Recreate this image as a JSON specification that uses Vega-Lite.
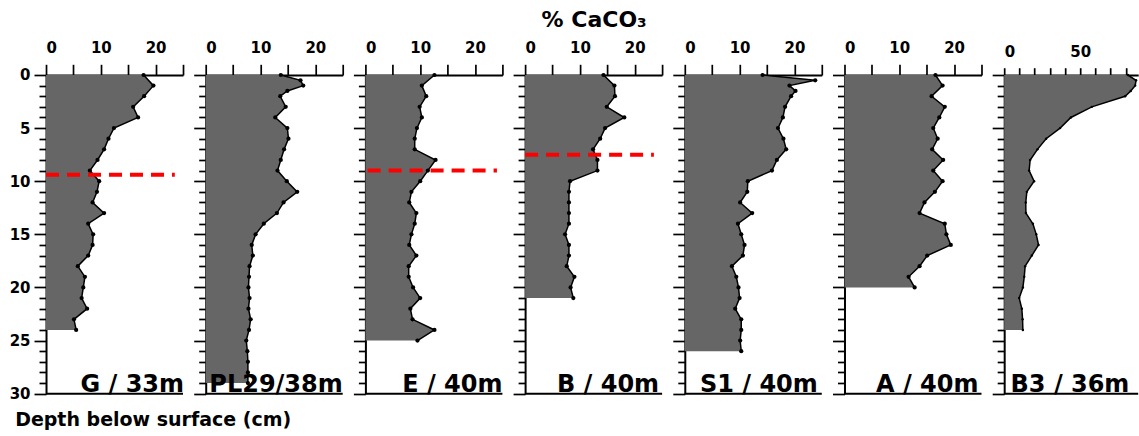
{
  "$schema": "https://vega.github.io/schema/vega-lite/v6.json",
  "padding": {"left": 9, "top": 9, "right": 0, "bottom": 0},
  "background": "white",
  "config": {
    "font": "DejaVu Sans",
    "view": {"stroke": null},
    "axis": {"domainColor": "black", "domainWidth": 2, "tickColor": "black", "tickWidth": 1.7, "labelFont": "DejaVu Sans", "labelFontWeight": "bold", "labelFontSize": 15, "labelColor": "black", "grid": false}
  },
  "title": {"text": "% CaCO₃", "anchor": "middle", "fontSize": 22, "fontWeight": "bold", "color": "black", "offset": 8, "dx": 20, "font": "DejaVu Sans"},
  "bounds": "flush",
  "spacing": 22.7,
  "datasets": {
    "G": [
      {"depth": 0, "caco3": 17.8}, {"depth": 1, "caco3": 19.6}, {"depth": 2, "caco3": 17.9}, {"depth": 3, "caco3": 15.9}, {"depth": 4, "caco3": 16.8},
      {"depth": 5, "caco3": 12.4}, {"depth": 6, "caco3": 11.4}, {"depth": 7, "caco3": 10.6}, {"depth": 8, "caco3": 9.4}, {"depth": 9, "caco3": 8.0},
      {"depth": 10, "caco3": 9.7}, {"depth": 11, "caco3": 9.3}, {"depth": 12, "caco3": 8.5}, {"depth": 13, "caco3": 10.6}, {"depth": 14, "caco3": 7.7},
      {"depth": 15, "caco3": 8.6}, {"depth": 16, "caco3": 8.5}, {"depth": 17, "caco3": 7.7}, {"depth": 18, "caco3": 5.8}, {"depth": 19, "caco3": 7.1},
      {"depth": 20, "caco3": 6.8}, {"depth": 21, "caco3": 6.5}, {"depth": 22, "caco3": 7.5}, {"depth": 23, "caco3": 5.1}, {"depth": 24, "caco3": 5.5}
    ],
    "PL29": [
      {"depth": 0, "caco3": 13.7}, {"depth": 0.5, "caco3": 17.3}, {"depth": 1, "caco3": 17.8}, {"depth": 1.5, "caco3": 14.9}, {"depth": 2, "caco3": 13.6},
      {"depth": 3, "caco3": 14.6}, {"depth": 4, "caco3": 12.7}, {"depth": 5, "caco3": 14.9}, {"depth": 6, "caco3": 15.1}, {"depth": 7, "caco3": 14.3},
      {"depth": 8, "caco3": 13.7}, {"depth": 9, "caco3": 13.1}, {"depth": 10, "caco3": 14.8}, {"depth": 11, "caco3": 16.7}, {"depth": 12, "caco3": 14.2},
      {"depth": 13, "caco3": 13.0}, {"depth": 14, "caco3": 10.6}, {"depth": 15, "caco3": 9.1}, {"depth": 16, "caco3": 8.4}, {"depth": 17, "caco3": 8.6},
      {"depth": 18, "caco3": 8.0}, {"depth": 19, "caco3": 7.9}, {"depth": 20, "caco3": 7.8}, {"depth": 21, "caco3": 8.0}, {"depth": 22, "caco3": 7.8},
      {"depth": 23, "caco3": 8.2}, {"depth": 24, "caco3": 7.9}, {"depth": 25, "caco3": 7.4}, {"depth": 26, "caco3": 7.6}, {"depth": 27, "caco3": 7.7},
      {"depth": 28, "caco3": 7.7}, {"depth": 29, "caco3": 7.7}
    ],
    "E": [
      {"depth": 0, "caco3": 12.6}, {"depth": 1, "caco3": 10.3}, {"depth": 2, "caco3": 11.1}, {"depth": 3, "caco3": 9.9}, {"depth": 4, "caco3": 10.3},
      {"depth": 5, "caco3": 9.4}, {"depth": 6, "caco3": 9.0}, {"depth": 7, "caco3": 9.0}, {"depth": 8, "caco3": 12.8}, {"depth": 9, "caco3": 11.4},
      {"depth": 10, "caco3": 10.0}, {"depth": 11, "caco3": 8.4}, {"depth": 12, "caco3": 8.0}, {"depth": 13, "caco3": 9.3}, {"depth": 14, "caco3": 9.0},
      {"depth": 15, "caco3": 8.4}, {"depth": 16, "caco3": 8.0}, {"depth": 17, "caco3": 9.3}, {"depth": 18, "caco3": 7.9}, {"depth": 19, "caco3": 7.9},
      {"depth": 20, "caco3": 8.7}, {"depth": 21, "caco3": 10.0}, {"depth": 22, "caco3": 8.2}, {"depth": 23, "caco3": 8.6}, {"depth": 24, "caco3": 12.6},
      {"depth": 25, "caco3": 9.5}
    ],
    "B": [
      {"depth": 0, "caco3": 14.3}, {"depth": 1, "caco3": 16.3}, {"depth": 2, "caco3": 16.4}, {"depth": 3, "caco3": 14.9}, {"depth": 4, "caco3": 18.1},
      {"depth": 5, "caco3": 14.6}, {"depth": 6, "caco3": 13.7}, {"depth": 7, "caco3": 12.4}, {"depth": 8, "caco3": 13.2}, {"depth": 9, "caco3": 13.2},
      {"depth": 10, "caco3": 8.2}, {"depth": 11, "caco3": 8.0}, {"depth": 12, "caco3": 8.0}, {"depth": 13, "caco3": 8.0}, {"depth": 14, "caco3": 8.0},
      {"depth": 15, "caco3": 7.3}, {"depth": 16, "caco3": 8.0}, {"depth": 17, "caco3": 8.0}, {"depth": 18, "caco3": 7.6}, {"depth": 19, "caco3": 9.0},
      {"depth": 20, "caco3": 8.3}, {"depth": 21, "caco3": 8.8}
    ],
    "S1": [
      {"depth": 0, "caco3": 14.2}, {"depth": 0.5, "caco3": 23.8}, {"depth": 1, "caco3": 19.1}, {"depth": 1.5, "caco3": 20.2}, {"depth": 2, "caco3": 19.4},
      {"depth": 3, "caco3": 18.3}, {"depth": 4, "caco3": 17.9}, {"depth": 5, "caco3": 17.0}, {"depth": 6, "caco3": 18.0}, {"depth": 7, "caco3": 18.5},
      {"depth": 8, "caco3": 16.8}, {"depth": 9, "caco3": 15.9}, {"depth": 10, "caco3": 11.5}, {"depth": 11, "caco3": 11.4}, {"depth": 12, "caco3": 10.1},
      {"depth": 13, "caco3": 12.3}, {"depth": 14, "caco3": 9.7}, {"depth": 15, "caco3": 10.3}, {"depth": 16, "caco3": 10.9}, {"depth": 17, "caco3": 10.6},
      {"depth": 18, "caco3": 8.6}, {"depth": 19, "caco3": 9.4}, {"depth": 20, "caco3": 9.8}, {"depth": 21, "caco3": 10.0}, {"depth": 22, "caco3": 9.2},
      {"depth": 23, "caco3": 10.3}, {"depth": 24, "caco3": 10.3}, {"depth": 25, "caco3": 10.1}, {"depth": 26, "caco3": 10.3}
    ],
    "A": [
      {"depth": 0, "caco3": 16.6}, {"depth": 1, "caco3": 17.9}, {"depth": 2, "caco3": 15.9}, {"depth": 3, "caco3": 18.3}, {"depth": 4, "caco3": 17.3},
      {"depth": 5, "caco3": 16.2}, {"depth": 6, "caco3": 17.0}, {"depth": 7, "caco3": 16.0}, {"depth": 8, "caco3": 18.0}, {"depth": 9, "caco3": 16.2},
      {"depth": 10, "caco3": 17.9}, {"depth": 11, "caco3": 16.5}, {"depth": 12, "caco3": 14.6}, {"depth": 13, "caco3": 13.7}, {"depth": 14, "caco3": 18.3},
      {"depth": 15, "caco3": 18.6}, {"depth": 16, "caco3": 19.4}, {"depth": 17, "caco3": 15.1}, {"depth": 18, "caco3": 13.7}, {"depth": 19, "caco3": 11.7},
      {"depth": 20, "caco3": 12.8}
    ],
    "B3": [
      {"depth": 0, "caco3": 81.4}, {"depth": 0.5, "caco3": 86.8}, {"depth": 1, "caco3": 86.2}, {"depth": 1.5, "caco3": 83.3}, {"depth": 2, "caco3": 79.6},
      {"depth": 3, "caco3": 57.7}, {"depth": 4, "caco3": 43.9}, {"depth": 5, "caco3": 36.8}, {"depth": 6, "caco3": 27.6}, {"depth": 7, "caco3": 21.9},
      {"depth": 8, "caco3": 17.1}, {"depth": 9, "caco3": 16.4}, {"depth": 10, "caco3": 19.7}, {"depth": 11, "caco3": 14.9}, {"depth": 12, "caco3": 14.2},
      {"depth": 13, "caco3": 14.3}, {"depth": 14, "caco3": 18.9}, {"depth": 15, "caco3": 21.1}, {"depth": 16, "caco3": 22.6}, {"depth": 17, "caco3": 18.2},
      {"depth": 18, "caco3": 13.8}, {"depth": 19, "caco3": 13.2}, {"depth": 20, "caco3": 12.3}, {"depth": 21, "caco3": 9.9}, {"depth": 22, "caco3": 11.6},
      {"depth": 23, "caco3": 12.1}, {"depth": 24, "caco3": 12.3}
    ]
  },
  "hconcat": [
    {
      "width": 137, "height": 318.7,
      "data": {"name": "G"},
      "title": {"text": "Depth below surface (cm)", "orient": "bottom", "anchor": "start", "frame": "bounds", "fontSize": 19, "fontWeight": "bold", "color": "black", "offset": 9, "dx": 6, "font": "DejaVu Sans"},
      "encoding": {
        "y": {"field": "depth", "type": "quantitative", "scale": {"domain": [0, 30], "reverse": true, "nice": false}, "axis": {"title": null, "values": [0,1,2,3,4,5,6,7,8,9,10,11,12,13,14,15,16,17,18,19,20,21,22,23,24,25,26,27,28,29,30], "labelExpr": "datum.value % 5 === 0 ? datum.label : ''", "tickSize": {"condition": {"test": "datum.value % 5 === 0", "value": 12}, "value": 7}, "labelPadding": 4}},
        "x": {"field": "caco3", "type": "quantitative", "scale": {"domain": [0, 25], "nice": false}, "axis": {"title": null, "orient": "top", "values": [0,5,10,15,20,25], "labelExpr": "datum.value % 10 === 0 ? datum.label : ''", "tickSize": 10.7, "labelPadding": 9}}
      },
      "layer": [
        {"mark": {"type": "area", "orient": "horizontal", "fill": "#666666"}},
        {"mark": {"type": "line", "orient": "horizontal", "color": "black", "strokeWidth": 1.5}, "encoding": {"order": {"field": "depth", "type": "quantitative"}}},
        {"mark": {"type": "circle", "color": "black", "size": 18, "opacity": 1}},
        {"transform": [{"filter": "datum.depth === 0"}], "mark": {"type": "rule", "color": "#ff0000", "strokeWidth": 4, "strokeDash": [13, 8]}, "encoding": {"y": {"datum": 9.4}, "x": {"datum": 0}, "x2": {"datum": 23.5}}},
        {"transform": [{"filter": "datum.depth === 0"}], "mark": {"type": "rule", "color": "black", "strokeWidth": 2}, "encoding": {"y": {"datum": 30}, "x": {"datum": 0}, "x2": {"datum": 25}}},
        {"transform": [{"filter": "datum.depth === 0"}], "mark": {"type": "text", "text": "G / 33m", "align": "right", "baseline": "alphabetic", "fontSize": 24, "fontWeight": "bold", "color": "black", "dy": -2, "dx": 1}, "encoding": {"x": {"datum": 25}, "y": {"datum": 30}}}
      ]
    },
    {
      "width": 137, "height": 318.7,
      "data": {"name": "PL29"},
      "encoding": {
        "y": {"field": "depth", "type": "quantitative", "scale": {"domain": [0, 30], "reverse": true, "nice": false}, "axis": {"title": null, "values": [0,1,2,3,4,5,6,7,8,9,10,11,12,13,14,15,16,17,18,19,20,21,22,23,24,25,26,27,28,29,30], "labels": false, "tickSize": {"condition": {"test": "datum.value % 5 === 0", "value": 12}, "value": 7}}},
        "x": {"field": "caco3", "type": "quantitative", "scale": {"domain": [0, 25], "nice": false}, "axis": {"title": null, "orient": "top", "values": [0,5,10,15,20,25], "labelExpr": "datum.value % 10 === 0 ? datum.label : ''", "tickSize": 10.7, "labelPadding": 9}}
      },
      "layer": [
        {"mark": {"type": "area", "orient": "horizontal", "fill": "#666666"}},
        {"mark": {"type": "line", "orient": "horizontal", "color": "black", "strokeWidth": 1.5}, "encoding": {"order": {"field": "depth", "type": "quantitative"}}},
        {"mark": {"type": "circle", "color": "black", "size": 18, "opacity": 1}},
        {"transform": [{"filter": "datum.depth === 0"}], "mark": {"type": "rule", "color": "black", "strokeWidth": 2}, "encoding": {"y": {"datum": 30}, "x": {"datum": 0}, "x2": {"datum": 25}}},
        {"transform": [{"filter": "datum.depth === 0"}], "mark": {"type": "text", "text": "PL29/38m", "align": "right", "baseline": "alphabetic", "fontSize": 24, "fontWeight": "bold", "color": "black", "dy": -2}, "encoding": {"x": {"datum": 25}, "y": {"datum": 30}}}
      ]
    },
    {
      "width": 137, "height": 318.7,
      "data": {"name": "E"},
      "encoding": {
        "y": {"field": "depth", "type": "quantitative", "scale": {"domain": [0, 30], "reverse": true, "nice": false}, "axis": {"title": null, "values": [0,1,2,3,4,5,6,7,8,9,10,11,12,13,14,15,16,17,18,19,20,21,22,23,24,25,26,27,28,29,30], "labels": false, "tickSize": {"condition": {"test": "datum.value % 5 === 0", "value": 12}, "value": 7}}},
        "x": {"field": "caco3", "type": "quantitative", "scale": {"domain": [0, 25], "nice": false}, "axis": {"title": null, "orient": "top", "values": [0,5,10,15,20,25], "labelExpr": "datum.value % 10 === 0 ? datum.label : ''", "tickSize": 10.7, "labelPadding": 9}}
      },
      "layer": [
        {"mark": {"type": "area", "orient": "horizontal", "fill": "#666666"}},
        {"mark": {"type": "line", "orient": "horizontal", "color": "black", "strokeWidth": 1.5}, "encoding": {"order": {"field": "depth", "type": "quantitative"}}},
        {"mark": {"type": "circle", "color": "black", "size": 18, "opacity": 1}},
        {"transform": [{"filter": "datum.depth === 0"}], "mark": {"type": "rule", "color": "#ff0000", "strokeWidth": 4, "strokeDash": [13, 8]}, "encoding": {"y": {"datum": 9.0}, "x": {"datum": 0.4}, "x2": {"datum": 24}}},
        {"transform": [{"filter": "datum.depth === 0"}], "mark": {"type": "rule", "color": "black", "strokeWidth": 2}, "encoding": {"y": {"datum": 30}, "x": {"datum": 0}, "x2": {"datum": 25}}},
        {"transform": [{"filter": "datum.depth === 0"}], "mark": {"type": "text", "text": "E / 40m", "align": "right", "baseline": "alphabetic", "fontSize": 24, "fontWeight": "bold", "color": "black", "dy": -2}, "encoding": {"x": {"datum": 25}, "y": {"datum": 30}}}
      ]
    },
    {
      "width": 137, "height": 318.7,
      "data": {"name": "B"},
      "encoding": {
        "y": {"field": "depth", "type": "quantitative", "scale": {"domain": [0, 30], "reverse": true, "nice": false}, "axis": {"title": null, "values": [0,1,2,3,4,5,6,7,8,9,10,11,12,13,14,15,16,17,18,19,20,21,22,23,24,25,26,27,28,29,30], "labels": false, "tickSize": {"condition": {"test": "datum.value % 5 === 0", "value": 12}, "value": 7}}},
        "x": {"field": "caco3", "type": "quantitative", "scale": {"domain": [0, 25], "nice": false}, "axis": {"title": null, "orient": "top", "values": [0,5,10,15,20,25], "labelExpr": "datum.value % 10 === 0 ? datum.label : ''", "tickSize": 10.7, "labelPadding": 9}}
      },
      "layer": [
        {"mark": {"type": "area", "orient": "horizontal", "fill": "#666666"}},
        {"mark": {"type": "line", "orient": "horizontal", "color": "black", "strokeWidth": 1.5}, "encoding": {"order": {"field": "depth", "type": "quantitative"}}},
        {"mark": {"type": "circle", "color": "black", "size": 18, "opacity": 1}},
        {"transform": [{"filter": "datum.depth === 0"}], "mark": {"type": "rule", "color": "#ff0000", "strokeWidth": 4, "strokeDash": [13, 8]}, "encoding": {"y": {"datum": 7.5}, "x": {"datum": 0}, "x2": {"datum": 23.5}}},
        {"transform": [{"filter": "datum.depth === 0"}], "mark": {"type": "rule", "color": "black", "strokeWidth": 2}, "encoding": {"y": {"datum": 30}, "x": {"datum": 0}, "x2": {"datum": 25}}},
        {"transform": [{"filter": "datum.depth === 0"}], "mark": {"type": "text", "text": "B / 40m", "align": "right", "baseline": "alphabetic", "fontSize": 24, "fontWeight": "bold", "color": "black", "dy": -2, "dx": -3}, "encoding": {"x": {"datum": 25}, "y": {"datum": 30}}}
      ]
    },
    {
      "width": 137, "height": 318.7,
      "data": {"name": "S1"},
      "encoding": {
        "y": {"field": "depth", "type": "quantitative", "scale": {"domain": [0, 30], "reverse": true, "nice": false}, "axis": {"title": null, "values": [0,1,2,3,4,5,6,7,8,9,10,11,12,13,14,15,16,17,18,19,20,21,22,23,24,25,26,27,28,29,30], "labels": false, "tickSize": {"condition": {"test": "datum.value % 5 === 0", "value": 12}, "value": 7}}},
        "x": {"field": "caco3", "type": "quantitative", "scale": {"domain": [0, 25], "nice": false}, "axis": {"title": null, "orient": "top", "values": [0,5,10,15,20,25], "labelExpr": "datum.value % 10 === 0 ? datum.label : ''", "tickSize": 10.7, "labelPadding": 9}}
      },
      "layer": [
        {"mark": {"type": "area", "orient": "horizontal", "fill": "#666666"}},
        {"mark": {"type": "line", "orient": "horizontal", "color": "black", "strokeWidth": 1.5}, "encoding": {"order": {"field": "depth", "type": "quantitative"}}},
        {"mark": {"type": "circle", "color": "black", "size": 18, "opacity": 1}},
        {"transform": [{"filter": "datum.depth === 0"}], "mark": {"type": "rule", "color": "black", "strokeWidth": 2}, "encoding": {"y": {"datum": 30}, "x": {"datum": 0}, "x2": {"datum": 25}}},
        {"transform": [{"filter": "datum.depth === 0"}], "mark": {"type": "text", "text": "S1 / 40m", "align": "right", "baseline": "alphabetic", "fontSize": 24, "fontWeight": "bold", "color": "black", "dy": -2, "dx": -4}, "encoding": {"x": {"datum": 25}, "y": {"datum": 30}}}
      ]
    },
    {
      "width": 137, "height": 318.7,
      "data": {"name": "A"},
      "encoding": {
        "y": {"field": "depth", "type": "quantitative", "scale": {"domain": [0, 30], "reverse": true, "nice": false}, "axis": {"title": null, "values": [0,1,2,3,4,5,6,7,8,9,10,11,12,13,14,15,16,17,18,19,20,21,22,23,24,25,26,27,28,29,30], "labels": false, "tickSize": {"condition": {"test": "datum.value % 5 === 0", "value": 12}, "value": 7}}},
        "x": {"field": "caco3", "type": "quantitative", "scale": {"domain": [0, 25], "nice": false}, "axis": {"title": null, "orient": "top", "values": [0,5,10,15,20,25], "labelExpr": "datum.value % 10 === 0 ? datum.label : ''", "tickSize": 10.7, "labelPadding": 9}}
      },
      "layer": [
        {"mark": {"type": "area", "orient": "horizontal", "fill": "#666666"}},
        {"mark": {"type": "line", "orient": "horizontal", "color": "black", "strokeWidth": 1.5}, "encoding": {"order": {"field": "depth", "type": "quantitative"}}},
        {"mark": {"type": "circle", "color": "black", "size": 18, "opacity": 1}},
        {"transform": [{"filter": "datum.depth === 0"}], "mark": {"type": "rule", "color": "black", "strokeWidth": 2}, "encoding": {"y": {"datum": 30}, "x": {"datum": 0}, "x2": {"datum": 25}}},
        {"transform": [{"filter": "datum.depth === 0"}], "mark": {"type": "text", "text": "A / 40m", "align": "right", "baseline": "alphabetic", "fontSize": 24, "fontWeight": "bold", "color": "black", "dy": -2, "dx": -3}, "encoding": {"x": {"datum": 25}, "y": {"datum": 30}}}
      ]
    },
    {
      "width": 134, "height": 318.7,
      "data": {"name": "B3"},
      "encoding": {
        "y": {"field": "depth", "type": "quantitative", "scale": {"domain": [0, 30], "reverse": true, "nice": false}, "axis": {"title": null, "values": [0,1,2,3,4,5,6,7,8,9,10,11,12,13,14,15,16,17,18,19,20,21,22,23,24,25,26,27,28,29,30], "labels": false, "tickSize": {"condition": {"test": "datum.value % 5 === 0", "value": 12}, "value": 7}}},
        "x": {"field": "caco3", "type": "quantitative", "scale": {"domain": [0, 88.2], "nice": false}, "axis": {"title": null, "orient": "top", "values": [0,10,20,30,40,50,60,70,80], "labelExpr": "datum.value % 50 === 0 ? datum.label : ''", "tickSize": 7.3, "labelPadding": 8}}
      },
      "layer": [
        {"mark": {"type": "area", "orient": "horizontal", "fill": "#666666"}},
        {"mark": {"type": "line", "orient": "horizontal", "color": "black", "strokeWidth": 1.5}, "encoding": {"order": {"field": "depth", "type": "quantitative"}}},
        {"mark": {"type": "circle", "color": "black", "size": 6, "opacity": 1}},
        {"transform": [{"filter": "datum.depth === 0"}], "mark": {"type": "rule", "color": "black", "strokeWidth": 2}, "encoding": {"y": {"datum": 30}, "x": {"datum": 0}, "x2": {"datum": 88.2}}},
        {"transform": [{"filter": "datum.depth === 0"}], "mark": {"type": "text", "text": "B3 / 36m", "align": "right", "baseline": "alphabetic", "fontSize": 24, "fontWeight": "bold", "color": "black", "dy": -2}, "encoding": {"x": {"datum": 82.4}, "y": {"datum": 30}}}
      ]
    }
  ]
}
